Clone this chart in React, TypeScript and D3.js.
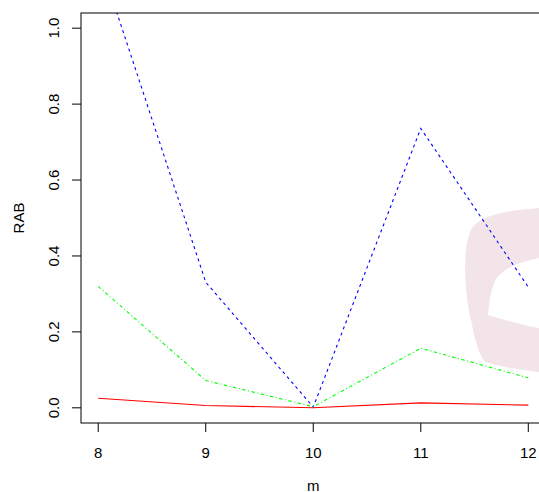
import React from "react";
import * as d3 from "d3";

const mValues = [8, 9, 10, 11, 12];
const seriesRed = [0.025, 0.006, 0.0, 0.013, 0.007];
const seriesBlue = [1.19, 0.331, 0.002, 0.736, 0.318];
const seriesGreen = [0.32, 0.072, 0.003, 0.157, 0.079];
const xTicks = [8, 9, 10, 11, 12];
const yTicks = [0, 0.2, 0.4, 0.6, 0.8, 1.0];

const W = 539;
const H = 492;
const plot = { left: 81, right: 545.5, top: 13, bottom: 423 };

export default function App() {
  const x = d3
    .scaleLinear()
    .domain([7.84, 12.16])
    .range([plot.left, plot.right]);
  const y = d3
    .scaleLinear()
    .domain([-0.04, 1.04])
    .range([plot.bottom, plot.top]);

  const line = d3
    .line<number>()
    .x((_, i) => x(mValues[i]))
    .y((d) => y(d));

  const series = [
    { data: seriesRed, color: "#ff0000", dash: undefined },
    { data: seriesBlue, color: "#0000ff", dash: "3,3.5" },
    { data: seriesGreen, color: "#00ff00", dash: "3.5,2.5,1,2.5" },
  ];

  const font = "'Liberation Sans', Arial, Helvetica, sans-serif";
  const cy = (plot.top + plot.bottom) / 2;
  const cx = (plot.left + plot.right) / 2;

  return (
    <svg
      width={W}
      height={H}
      style={{ position: "absolute", left: 0, top: 0, background: "#fff" }}
      fontFamily={font}
    >
      <defs>
        <clipPath id="plotClip">
          <rect
            x={plot.left}
            y={plot.top}
            width={plot.right - plot.left}
            height={plot.bottom - plot.top}
          />
        </clipPath>
      </defs>
      <rect width={W} height={H} fill="#fff" />

      {/* watermark */}
      <path
        d="M539,208 C512,210 482,214 472,228 C462,245 464,290 471,320 C475,340 479,355 485,362 C502,367 520,370 539,372 Z"
        fill="#f3e4ea"
      />
      <path
        d="M539,258 C520,262 502,268 495,281 C490,293 489,305 488,315 C505,320 521,325 539,328 Z"
        fill="#ffffff"
      />

      {/* lines */}
      <g clipPath="url(#plotClip)">
        {series.map((s, i) => (
          <path
            key={i}
            d={line(s.data) || ""}
            fill="none"
            stroke={s.color}
            strokeWidth={1.1}
            strokeDasharray={s.dash}
          />
        ))}
      </g>

      {/* box */}
      <rect
        x={plot.left}
        y={plot.top}
        width={plot.right - plot.left}
        height={plot.bottom - plot.top}
        fill="none"
        stroke="#000"
        strokeWidth={1}
      />

      {/* x axis */}
      {xTicks.map((t) => (
        <g key={t}>
          <line
            x1={x(t)}
            x2={x(t)}
            y1={plot.bottom}
            y2={plot.bottom + 9}
            stroke="#000"
          />
          <text
            x={x(t)}
            y={452}
            textAnchor="middle"
            dominantBaseline="central"
            fontSize={15}
            fill="#000"
          >
            {t}
          </text>
        </g>
      ))}

      {/* y axis */}
      {yTicks.map((t) => (
        <g key={t}>
          <line
            x1={plot.left - 9}
            x2={plot.left}
            y1={y(t)}
            y2={y(t)}
            stroke="#000"
          />
          <text
            transform={`translate(53,${y(t)}) rotate(-90)`}
            textAnchor="middle"
            dominantBaseline="central"
            fontSize={15}
            fill="#000"
          >
            {t.toFixed(1)}
          </text>
        </g>
      ))}

      <text
        x={cx}
        y={485}
        textAnchor="middle"
        dominantBaseline="central"
        fontSize={15}
        fill="#000"
      >
        m
      </text>
      <text
        transform={`translate(18,${cy}) rotate(-90)`}
        textAnchor="middle"
        dominantBaseline="central"
        fontSize={15}
        fill="#000"
      >
        RAB
      </text>
    </svg>
  );
}
